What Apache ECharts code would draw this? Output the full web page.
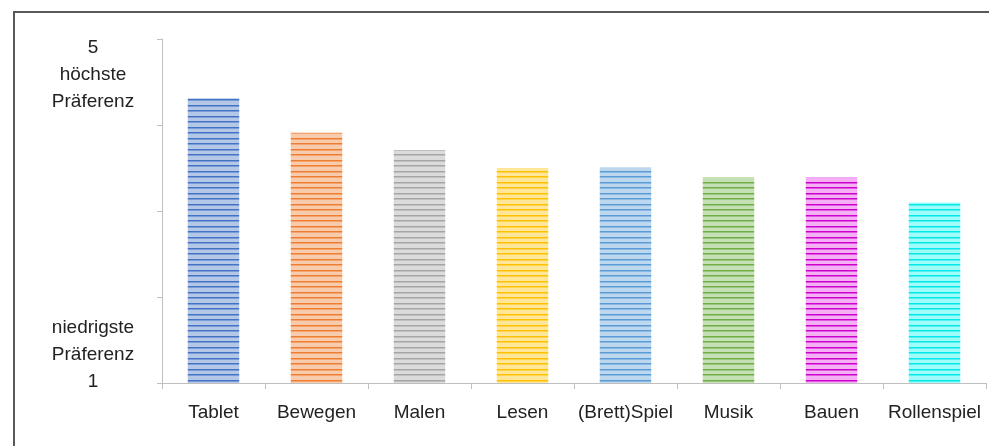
<!DOCTYPE html>
<html>
<head>
<meta charset="utf-8">
<style>
	html, body { margin: 0; padding: 0; background: #fff; }
	#chart { width: 989px; height: 446px; }
</style>
<script src="https://cdn.jsdelivr.net/npm/echarts@6/dist/echarts.min.js"></script>
</head>
<body>
<div id="chart"></div>
<script>
	// Kategorien und Mittelwerte (Skala 1 bis 5)
	var categories = ['Tablet', 'Bewegen', 'Malen', 'Lesen', '(Brett)Spiel', 'Musik', 'Bauen', 'Rollenspiel'];
	var values = [4.31, 3.91, 3.71, 3.50, 3.51, 3.39, 3.39, 3.10];
	var topLabel = ['5', 'höchste', 'Präferenz'];
	var bottomLabel = ['niedrigste', 'Präferenz', '1'];

	// dunkle Streifen / heller Grund je Balken
	var darkColors = ['#4472c4', '#ed7d31', '#a5a5a5', '#ffc000', '#5b9bd5', '#70ad47', '#cc00cc', '#00e8e8'];
	var lightColors = ['#b4c7e7', '#f8cbad', '#dbdbdb', '#ffe699', '#bdd7ee', '#c5e0b4', '#f5b0f5', '#a0fbfb'];

	function stripes(dark, light) {
		var c = document.createElement('canvas');
		c.width = 4;
		c.height = 11;
		var ctx = c.getContext('2d');
		ctx.fillStyle = light;
		ctx.fillRect(0, 0, 4, 11);
		ctx.fillStyle = dark;
		ctx.fillRect(0, 0, 4, 1);
		ctx.fillRect(0, 6, 4, 1);
		ctx.globalAlpha = 0.5;
		ctx.fillRect(0, 1, 4, 1);
		ctx.fillRect(0, 7, 4, 1);
		return c;
	}

	var barData = values.map(function (v, i) {
		return {
			value: v,
			itemStyle: { color: { image: stripes(darkColors[i], lightColors[i]), repeat: 'repeat' } }
		};
	});

	var font = "'Liberation Sans', Arial, sans-serif";
	var myChart = echarts.init(document.getElementById('chart'));
	var option = {
		animation: false,
		graphic: [{
			type: 'rect',
			shape: { x: 14, y: 12, width: 1200, height: 800 },
			style: { fill: 'none', stroke: '#595959', lineWidth: 2 },
			silent: true
		}],
		grid: {
			left: 162,
			right: 3,
			top: 39,
			bottom: 63,
			outerBoundsMode: 'none'
		},
		xAxis: {
			type: 'category',
			data: categories,
			axisLine: { lineStyle: { color: '#bfbfbf', width: 1 } },
			axisTick: { show: true, length: 6, lineStyle: { color: '#bfbfbf' } },
			axisLabel: {
				margin: 20,
				interval: 0,
				color: '#222',
				fontFamily: font,
				fontSize: 19
			}
		},
		yAxis: {
			type: 'value',
			min: 1,
			max: 5,
			interval: 1,
			splitLine: { show: false },
			axisLine: { show: true, lineStyle: { color: '#bfbfbf', width: 1 } },
			axisTick: { show: true, length: 5, lineStyle: { color: '#bfbfbf' } },
			axisLabel: {
				margin: 69,
				align: 'center',
				formatter: function (v) {
					if (v === 5) {
						return '{gap| }\n' + topLabel.map(function (s) { return '{t|' + s + '}'; }).join('\n');
					}
					if (v === 1) {
						return bottomLabel.map(function (s) { return '{t|' + s + '}'; }).join('\n') + '\n{gap2| }';
					}
					return '';
				},
				rich: {
					t: { fontFamily: font, fontSize: 19, lineHeight: 27, color: '#222', align: 'center' },
					gap: { fontSize: 10, lineHeight: 72 },
					gap2: { fontSize: 10, lineHeight: 56 }
				}
			}
		},
		series: [{
			type: 'bar',
			data: barData,
			barCategoryGap: '50%'
		}]
	};
	myChart.setOption(option);
</script>
</body>
</html>
